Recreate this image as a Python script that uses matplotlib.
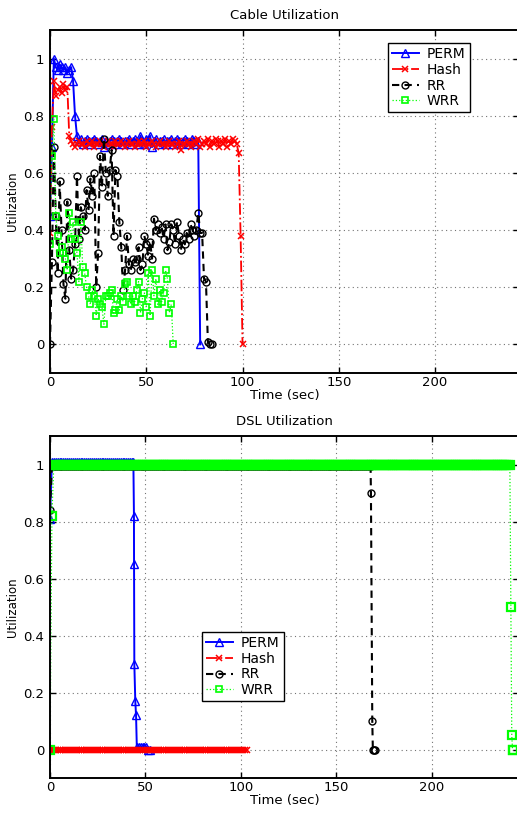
#!/usr/bin/env python
# -*- coding: utf-8 -*-
"""Cable / DSL utilization over time for PERM, Hash, RR, WRR schedulers."""

import numpy as np
import matplotlib
matplotlib.use("Agg")
import matplotlib.pyplot as plt

# ---- Cable link, one sample per second ----
cable_perm = [0.45, 0.69, 1.00, 0.97, 0.96, 0.98, 0.97, 0.96, 0.97, 0.95,
              0.96, 0.97, 0.92, 0.80, 0.73,
              0.71, 0.72, 0.70, 0.71, 0.72, 0.71, 0.70, 0.71, 0.72, 0.71,
              0.70, 0.71, 0.72, 0.69, 0.71, 0.70, 0.71, 0.72, 0.71, 0.70,
              0.71, 0.72, 0.71, 0.70, 0.71, 0.71, 0.72, 0.70, 0.71, 0.72,
              0.71, 0.70, 0.73, 0.71, 0.70, 0.72, 0.71, 0.73, 0.69, 0.71,
              0.72, 0.70, 0.71, 0.71, 0.72, 0.70, 0.71, 0.71, 0.72, 0.70,
              0.71, 0.72, 0.71, 0.70, 0.71, 0.72, 0.71, 0.70, 0.71, 0.72,
              0.71, 0.70, 0.71,
              0.00]

cable_hash = [0.39, 0.76, 0.92, 0.87, 0.89, 0.90, 0.88, 0.91, 0.89, 0.90, 0.73,
              0.71, 0.70, 0.69, 0.70, 0.71, 0.70, 0.70, 0.69, 0.71, 0.70,
              0.70, 0.71, 0.69, 0.70, 0.70, 0.71, 0.70, 0.69, 0.70, 0.71,
              0.70, 0.70, 0.69, 0.71, 0.70, 0.70, 0.71, 0.70, 0.69, 0.70,
              0.71, 0.70, 0.70, 0.69, 0.70, 0.71, 0.70, 0.70, 0.71, 0.69,
              0.70, 0.70, 0.71, 0.70, 0.69, 0.70, 0.71, 0.70, 0.70, 0.69,
              0.70, 0.71, 0.70, 0.70, 0.69, 0.70, 0.71, 0.68, 0.70, 0.70,
              0.71, 0.70, 0.69, 0.70, 0.71, 0.70, 0.72, 0.69, 0.70, 0.71,
              0.70, 0.72, 0.69, 0.71, 0.70, 0.72, 0.71, 0.69, 0.71, 0.70,
              0.72, 0.69, 0.71, 0.70, 0.72, 0.71, 0.70,
              0.67, 0.38, 0.00]

cable_rr = [0.00, 0.29, 0.69, 0.45, 0.25, 0.57, 0.40, 0.21, 0.16, 0.50,
            0.33, 0.23, 0.26, 0.35, 0.59, 0.37, 0.48, 0.45, 0.40, 0.54,
            0.47, 0.58, 0.52, 0.60, 0.20, 0.32, 0.66, 0.55, 0.72, 0.60,
            0.52, 0.61, 0.68, 0.38, 0.61, 0.59, 0.43, 0.34, 0.19, 0.26,
            0.38, 0.28, 0.26, 0.30, 0.29, 0.30, 0.34, 0.26, 0.28, 0.38,
            0.35, 0.31, 0.36, 0.30, 0.44, 0.40, 0.42, 0.39, 0.41, 0.37,
            0.42, 0.33, 0.36, 0.42, 0.40, 0.35, 0.43, 0.38, 0.33, 0.37,
            0.35, 0.39, 0.37, 0.42, 0.40, 0.38, 0.40, 0.46, 0.39, 0.39,
            0.23, 0.22, 0.01, 0.00, 0.00]

cable_wrr = [0.35, 0.66, 0.79, 0.45, 0.38, 0.32, 0.34, 0.32, 0.30, 0.26,
             0.46, 0.37, 0.43, 0.37, 0.32, 0.22, 0.43, 0.27, 0.25, 0.20,
             0.17, 0.14, 0.19, 0.17, 0.10, 0.16, 0.14, 0.13, 0.07, 0.17,
             0.17, 0.18, 0.19, 0.11, 0.12, 0.16, 0.12, 0.17, 0.15, 0.21,
             0.22, 0.17, 0.14, 0.17, 0.15, 0.19, 0.22, 0.11, 0.16, 0.18,
             0.13, 0.25, 0.10, 0.26, 0.17, 0.23, 0.14, 0.19, 0.15, 0.18,
             0.26, 0.23, 0.11, 0.14, 0.00]

# ---- DSL link ----
dsl_perm_t = list(range(0, 44)) + [43.7, 44.0, 44.05, 44.2, 44.7, 45.1, 45.5,
                                   46.5, 47.5, 48.5, 49.5, 50.5, 51.5, 52.4]
dsl_perm = [0.81] + [1.01] * 43 + [1.01, 0.82, 0.65, 0.30, 0.17, 0.12, 0.01,
                                   0.01, 0.01, 0.01, 0.01, 0.01, 0.00, 0.00]

dsl_hash_t = list(range(0, 104))
dsl_hash = [0.0] * 104

dsl_rr_t = list(range(0, 169)) + [168.2, 168.9, 169.2, 169.8, 170.5]
dsl_rr = [0.84] + [0.995] * 168 + [0.90, 0.10, 0.00, 0.00, 0.00]

dsl_wrr_t = [0] + list(range(1, 242)) + [241.5, 242.0, 242.4, 242.8]
dsl_wrr = [0.0, 0.82] + [1.0] * 240 + [0.50, 0.05, 0.00, 0.00]

labels = ["PERM", "Hash", "RR", "WRR"]
yticks = [0, 0.2, 0.4, 0.6, 0.8, 1]
ytick_labels = ["0", "0.2", "0.4", "0.6", "0.8", "1"]
xticks = [0, 50, 100, 150, 200]

plt.rcParams["font.family"] = ["DejaVu Sans"]

styles = [
    dict(color=(0, 0, 1), ls="-", lw=1.4, marker="^", ms=5.5, mfc="none", mew=1.0),
    dict(color=(1, 0, 0), ls="-.", lw=1.3, marker="x", ms=4, mew=1.1),
    dict(color="k", ls=(0, (3.5, 2.5)), lw=1.5, marker="o", ms=5, mfc="none", mew=1.0),
    dict(color=(0, 1, 0), ls=":", lw=0.9, marker="s", ms=4.5, mfc="none", mew=1.2),
]


def style_axes(ax, title, xmax, legend_anchor):
    ax.set_xlim(0, xmax)
    ax.set_ylim(-0.1, 1.1)
    ax.set_xticks(xticks)
    ax.set_yticks(yticks)
    ax.set_yticklabels(ytick_labels)
    ax.tick_params(direction="in", length=4, width=1, labelsize=9.5,
                   top=True, right=True)
    ax.tick_params(axis="x", pad=2)
    ax.tick_params(axis="y", pad=4)
    for s in ax.spines.values():
        s.set_linewidth(1.4)
    ax.grid(True, color="0.45", linestyle=(0, (1, 3)), linewidth=0.8)
    ax.set_title(title, fontsize=9.5, pad=8)
    ax.set_xlabel("Time (sec)", fontsize=9.5, labelpad=0)
    ax.set_ylabel("Utilization", fontsize=8.5, labelpad=3)
    leg = ax.legend(loc="upper left", bbox_to_anchor=legend_anchor, borderaxespad=0,
                    fontsize=10, numpoints=1, handlelength=1.9, handletextpad=0.6,
                    labelspacing=0.12, borderpad=0.3, fancybox=False, framealpha=1,
                    edgecolor="k")
    leg.get_frame().set_linewidth(1.0)
    # keep legend markers the same size in both panels
    for h, st in zip(leg.legend_handles, styles):
        h.set_markersize(st["ms"])
        h.set_markeredgewidth(st["mew"])


fig = plt.figure(figsize=(5.17, 8.13), dpi=100)
ax1 = fig.add_axes([0.0967, 0.5412, 0.9072, 0.4219])
ax2 = fig.add_axes([0.0967, 0.0430, 0.9072, 0.4207])

cable = [cable_perm, cable_hash, cable_rr, cable_wrr]
for vals, lab, st in zip(cable, labels, styles):
    ax1.plot(np.arange(len(vals)), vals, label=lab, **st)
style_axes(ax1, "Cable Utilization", 243.6, (0.7207, 0.962))

dsl = [(dsl_perm_t, dsl_perm), (dsl_hash_t, dsl_hash),
       (dsl_rr_t, dsl_rr), (dsl_wrr_t, dsl_wrr)]
for (t, vals), lab, st in zip(dsl, labels, styles):
    st = dict(st)
    if lab == "WRR":
        st.update(ms=6, mew=1.6)
    ax2.plot(t, vals, label=lab, **st)
style_axes(ax2, "DSL Utilization", 245.8, (0.324, 0.427))

fig.savefig("out.png", dpi=100)
